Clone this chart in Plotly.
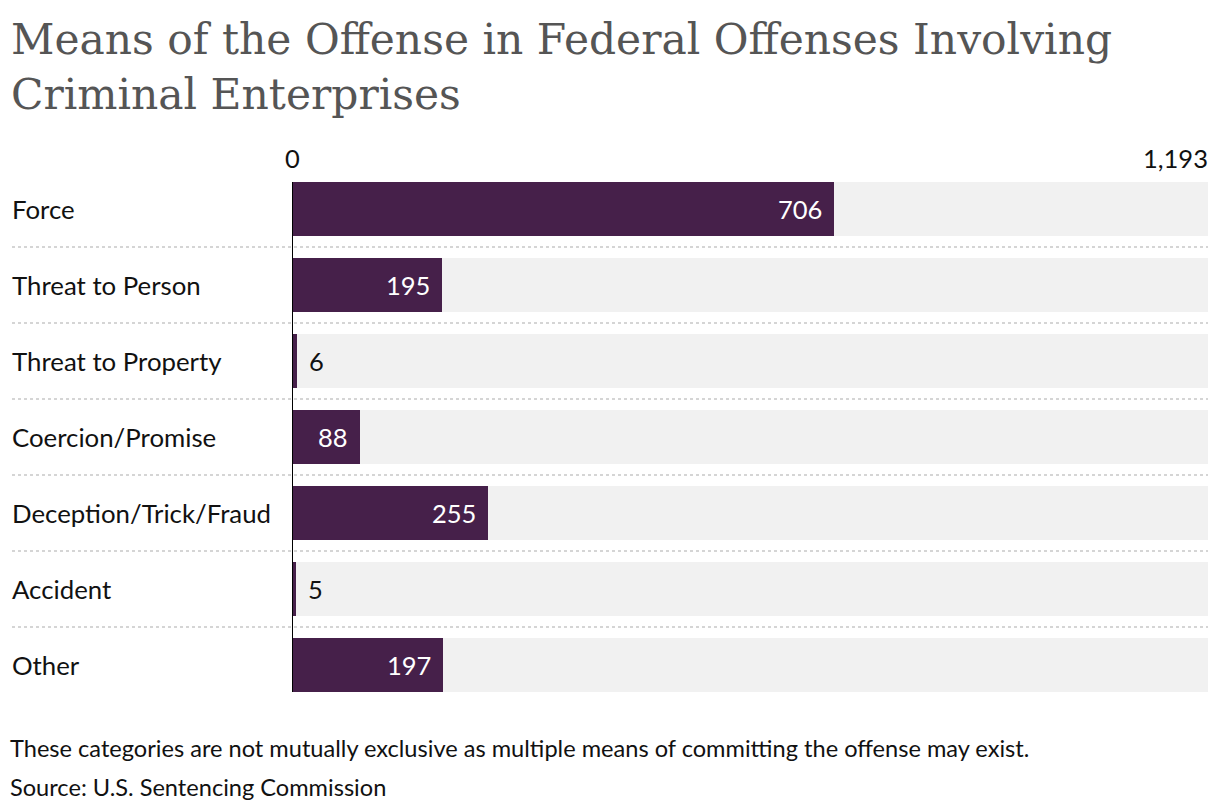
import plotly.graph_objects as go

categories = ["Force", "Threat to Person", "Threat to Property", "Coercion/Promise",
              "Deception/Trick/Fraud", "Accident", "Other"]
values = [706, 195, 6, 88, 255, 5, 197]
axis_max = 1193
tick_vals = [0, 1193]
tick_labels = ["0", "1,193"]

title = "Means of the Offense in Federal Offenses Involving<br>Criminal Enterprises"
note = "These categories are not mutually exclusive as multiple means of committing the offense may exist."
source = "Source: U.S. Sentencing Commission"

W, H = 1220, 812
x0_px, x1_px = 292, 1208
top_px, bot_px = 171, 703
BAR = "#46204a"
BG = "#f1f1f1"
FONT = "Lato"
PH = bot_px - top_px


def py(y_px):
    return (bot_px - y_px) / PH


def px(x_px):
    return x_px / W


ypos = list(range(len(categories)))
bw = 54 / 76

fig = go.Figure()
fig.add_trace(go.Bar(y=ypos, x=[axis_max] * len(categories), orientation="h",
                     marker=dict(color=BG, line=dict(width=0)), width=bw,
                     hoverinfo="skip", showlegend=False))
fig.add_trace(go.Bar(y=ypos, x=values, orientation="h",
                     marker=dict(color=BAR, line=dict(width=0)), width=bw,
                     showlegend=False))

ann = []
for i, c in enumerate(categories):
    ann.append(dict(x=px(10), xref="paper", y=i, yref="y", text=c, showarrow=False,
                    xanchor="left", yanchor="middle",
                    font=dict(family=FONT, size=25.8, color="#111")))
threshold = 40
for i, v in enumerate(values):
    inside = v > threshold
    ann.append(dict(x=v, xref="x", y=i, yref="y", text=f"{v:,}", showarrow=False,
                    xanchor="right" if inside else "left", yanchor="middle",
                    xshift=-10 if inside else 10,
                    font=dict(family=FONT, size=25.5, color="white" if inside else "#111")))
for tv, tl in zip(tick_vals, tick_labels):
    ann.append(dict(x=tv, xref="x", y=py(158), yref="paper", text=tl, showarrow=False,
                    xanchor="center" if tv == 0 else "right", yanchor="middle",
                    xshift=0 if tv == 0 else 2,
                    font=dict(family=FONT, size=25.5, color="#111")))
ann.append(dict(x=px(9), xref="paper", y=py(13), yref="paper", text=title,
                showarrow=False, xanchor="left", yanchor="top", align="left",
                font=dict(family="DejaVu Serif", size=42.4, color="#555555")))
ann.append(dict(x=px(8), xref="paper", y=py(748), yref="paper", text=note,
                showarrow=False, xanchor="left", yanchor="middle",
                font=dict(family=FONT, size=23.6, color="#111")))
ann.append(dict(x=px(8), xref="paper", y=py(787), yref="paper", text=source,
                showarrow=False, xanchor="left", yanchor="middle",
                font=dict(family=FONT, size=23.6, color="#111")))

shapes = []
for i in range(len(categories) - 1):
    shapes.append(dict(type="line", xref="paper", yref="y", x0=px(12), x1=px(x1_px),
                       y0=i + 0.5, y1=i + 0.5, line=dict(color="#c8c8c8", width=1.5, dash="dot")))
shapes.append(dict(type="line", xref="x", yref="y", x0=0, x1=0,
                   y0=-bw / 2, y1=len(categories) - 1 + bw / 2,
                   line=dict(color="black", width=2)))

fig.update_layout(
    width=W, height=H, barmode="overlay", bargap=0,
    paper_bgcolor="white", plot_bgcolor="white",
    margin=dict(l=0, r=0, t=top_px, b=H - bot_px, pad=0),
    xaxis=dict(domain=[px(x0_px), px(x1_px)], range=[0, axis_max], visible=False, fixedrange=True),
    yaxis=dict(range=[len(categories) - 0.5, -0.5], visible=False, fixedrange=True),
    annotations=ann, shapes=shapes,
    font=dict(family=FONT),
)

fig.write_html("out.html", config={"displayModeBar": False},
               post_script="document.body.style.margin='0';")
